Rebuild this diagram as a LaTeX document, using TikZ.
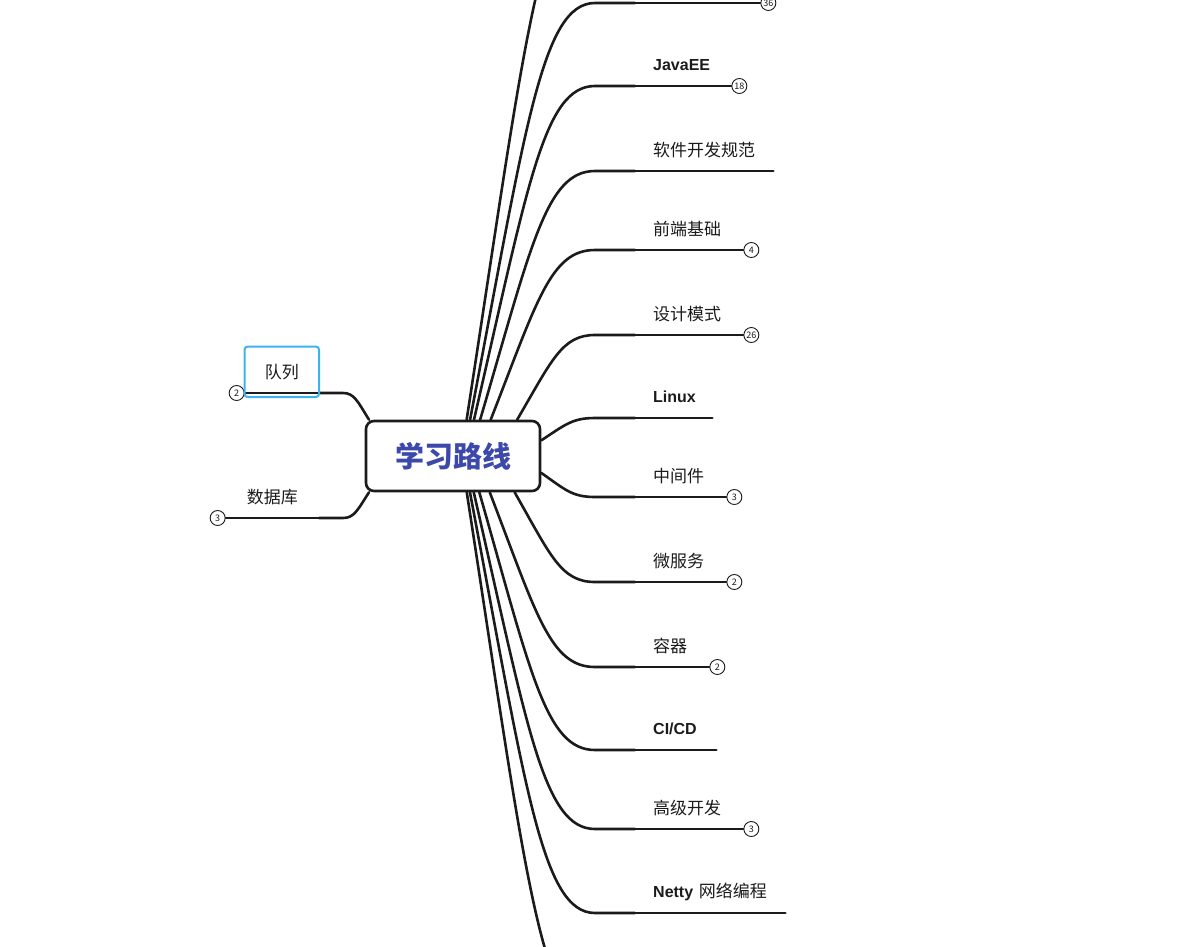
\documentclass[tikz,border=0pt]{standalone}
\usepackage{fontspec}
\setmainfont{Noto Sans CJK SC}
\newfontfamily\latinb{Liberation Sans}
\usetikzlibrary{calc}
\definecolor{ink}{HTML}{1B1B1B}
\definecolor{rootblue}{RGB}{60,72,170}
\definecolor{selblue}{HTML}{3DB2F0}

\newcommand\lat[1]{{\latinb\bfseries\fontsize{16}{20}\selectfont #1}}

\newcommand\branchcurve[4]{% #1 id, #2 ray target, #3 curve end, #4 final target
  \path (root) -- #2 coordinate[pos=0] (b#1);
  \coordinate (e#1) at #3;
  \draw[ln] let \p1=(b#1), \p2=(e#1) in
    (b#1) .. controls ({\x1+0.446*(\x2-\x1)},{\y1+0.7*(\y2-\y1)})
            and ({\x1+0.574*(\x2-\x1)},\y2) .. (e#1) -- #4;
}

\begin{document}
\begin{tikzpicture}[x=1pt,y=-1pt,
  ln/.style={draw=ink,line width=2.6pt,line cap=round},
  topic/.style={inner xsep=18pt, inner ysep=0pt, minimum height=42pt,
    font=\fontsize{17}{20}\selectfont, text=ink, align=left},
  ltopic/.style={topic, align=center},
  badge/.style={circle, draw=ink, fill=white, line width=0.9pt,
    minimum size=15pt, inner sep=0pt, font=\fontsize{9}{10}\selectfont, text=ink},
  rootbox/.style={draw=ink, line width=2.6pt, rounded corners=8pt, fill=white,
    minimum width=174pt, minimum height=70pt,
    font=\fontsize{29}{32}\selectfont\bfseries, text=rootblue},
  selbox/.style={draw=selblue, line width=2pt, rounded corners=3pt}]

\useasboundingbox (0,0) rectangle (1195,946);

\node[rootbox] (root) at (453,456) {学习路线};

% right topics
\node[topic, anchor=south west, text width=89pt] (n1) at (635,3) {};
\node[topic, anchor=south west, text width=60pt] (n2) at (635,86) {\lat{JavaEE}};
\node[topic, anchor=south west, text width=102pt] (n3) at (635,171) {\mbox{软件开发规范}};
\node[topic, anchor=south west, text width=72pt] (n4) at (635,250) {前端基础};
\node[topic, anchor=south west, text width=72pt] (n5) at (635,335) {设计模式};
\node[topic, anchor=south west, text width=41pt] (n6) at (635,418) {\lat{Linux}};
\node[topic, anchor=south west, text width=55pt] (n7) at (635,497) {中间件};
\node[topic, anchor=south west, text width=55pt] (n8) at (635,582) {微服务};
\node[topic, anchor=south west, text width=38pt] (n9) at (635,667) {容器};
\node[topic, anchor=south west, text width=45pt] (n10) at (635,750) {\lat{CI/CD}};
\node[topic, anchor=south west, text width=72pt] (n11) at (635,829) {高级开发};
\node[topic, anchor=south west, text width=114pt] (n12) at (635,913) {\mbox{\lat{Netty} 网络编程}};

% left topics
\node[ltopic, anchor=south east, text width=38pt] (q) at (319,393) {队列};
\node[ltopic, anchor=south east, text width=57pt] (db) at (319,518) {数据库};

% off-canvas ends
\coordinate (xt) at (635,-110);
\coordinate (xb) at (635,1020);

% connectors
\branchcurve{xt}{(667,-110)}{(595,-110)}{(xt)}
\branchcurve{n1}{(667,3)}{(595,3)}{(n1.south west)}
\branchcurve{n2}{(667,86)}{(595,86)}{(n2.south west)}
\branchcurve{n3}{(667,171)}{(595,171)}{(n3.south west)}
\branchcurve{n4}{(667,250)}{(595,250)}{(n4.south west)}
\branchcurve{n5}{(667,335)}{(595,335)}{(n5.south west)}
\branchcurve{n6}{(667,418)}{(595,418)}{(n6.south west)}
\branchcurve{n7}{(667,497)}{(595,497)}{(n7.south west)}
\branchcurve{n8}{(667,582)}{(595,582)}{(n8.south west)}
\branchcurve{n9}{(667,667)}{(595,667)}{(n9.south west)}
\branchcurve{n10}{(667,750)}{(595,750)}{(n10.south west)}
\branchcurve{n11}{(667,829)}{(595,829)}{(n11.south west)}
\branchcurve{n12}{(667,913)}{(595,913)}{(n12.south west)}
\branchcurve{xb}{(667,1020)}{(595,1020)}{(xb)}
\branchcurve{q}{(291,386)}{(343,393)}{(q.south east)}
\branchcurve{db}{(291,526)}{(343,518)}{(db.south east)}

% underlines
\foreach \nm in {n1,n2,n3,n4,n5,n6,n7,n8,n9,n10,n11,n12,q,db}{
  \draw[ln] (\nm.south west) -- (\nm.south east);
}

% badges
\node[badge, anchor=west] (c1) at (n1.south east) {36};
\node[badge, anchor=west] (c2) at (n2.south east) {18};
\node[badge, anchor=west] (c4) at (n4.south east) {4};
\node[badge, anchor=west] (c5) at (n5.south east) {26};
\node[badge, anchor=west] (c7) at (n7.south east) {3};
\node[badge, anchor=west] (c8) at (n8.south east) {2};
\node[badge, anchor=west] (c9) at (n9.south east) {2};
\node[badge, anchor=west] (c11) at (n11.south east) {3};
\node[badge, anchor=east] (cq) at (q.south west) {2};
\node[badge, anchor=east] (cdb) at (db.south west) {3};

% selection frame
\draw[selbox] ($(q.north west)+(0,-4)$) rectangle ($(q.south east)+(0,4)$);
\end{tikzpicture}
\end{document}
